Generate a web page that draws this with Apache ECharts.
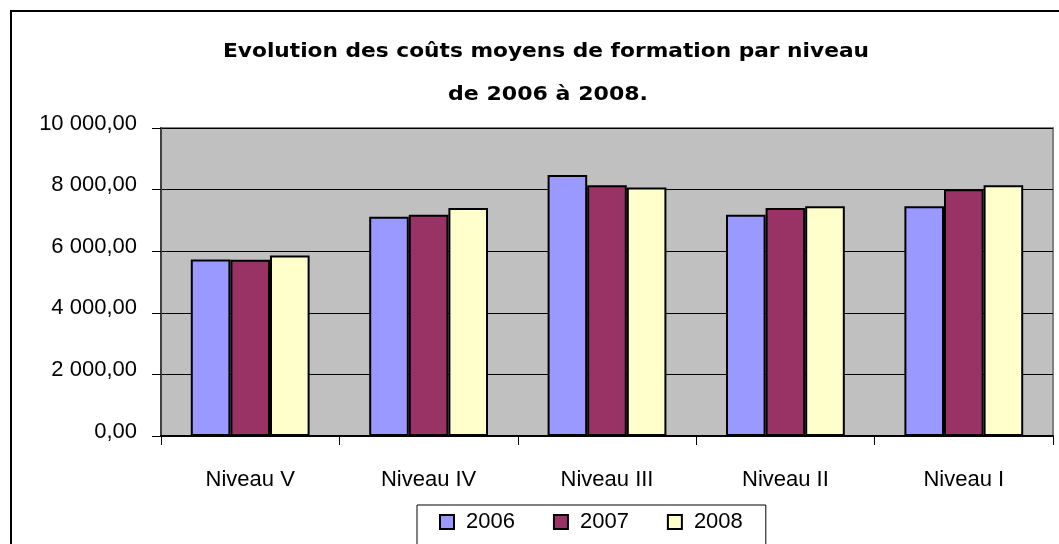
<!DOCTYPE html>
<html>
<head>
<meta charset="utf-8">
<script src="https://cdn.jsdelivr.net/npm/echarts@6/dist/echarts.min.js"></script>
<style>html,body{margin:0;padding:0;background:#fff}#c{width:1059px;height:544px}</style>
</head>
<body>
<div id="c"></div>
<script>
var categories = ['Niveau V', 'Niveau IV', 'Niveau III', 'Niveau II', 'Niveau I'];
var years = ['2006', '2007', '2008'];
var values2006 = [5730, 7120, 8470, 7180, 7460];
var values2007 = [5720, 7180, 8140, 7400, 8010];
var values2008 = [5860, 7400, 8070, 7460, 8140];
var titleLine1 = 'Evolution des coûts moyens de formation par niveau';
var titleLine2 = 'de 2006 à 2008.';
var colors = ['#9999FF', '#993366', '#FFFFCC'];

function fmt(v) {
  var s = v.toFixed(2).split('.');
  var ip = s[0].replace(/\B(?=(\d{3})+(?!\d))/g, ' ');
  return ip + ',' + s[1];
}

var titleFont = 'bold 19px "DejaVu Sans"';
function scaleFor(text, target) {
  var cv = document.createElement('canvas').getContext('2d');
  cv.font = titleFont;
  var w = cv.measureText(text).width;
  return w > 0 ? target / w : 1;
}

var chart = echarts.init(document.getElementById('c'), null, {renderer: 'canvas'});
var seriesData = [values2006, values2007, values2008];
var series = years.map(function (y, i) {
  return {
    name: y,
    type: 'bar',
    data: seriesData[i],
    barGap: '0%',
    barCategoryGap: '33.4%',
    itemStyle: {color: colors[i], borderColor: '#000', borderWidth: 2},
    emphasis: {disabled: true},
    animation: false
  };
});

chart.setOption({
  animation: false,
  textStyle: {fontFamily: 'Liberation Sans'},
  graphic: [
    {type: 'rect', shape: {x: 11, y: 11, width: 1100, height: 600}, style: {fill: 'none', stroke: '#000', lineWidth: 2}, silent: true, z: 100},
    {type: 'text', x: 546, y: 52, scaleX: scaleFor(titleLine1, 646), style: {text: titleLine1, font: titleFont, fill: '#000', textAlign: 'center', textVerticalAlign: 'middle', align: 'center', verticalAlign: 'middle'}},
    {type: 'text', x: 548, y: 95, scaleX: scaleFor(titleLine2, 200), style: {text: titleLine2, font: titleFont, fill: '#000', textAlign: 'center', textVerticalAlign: 'middle', align: 'center', verticalAlign: 'middle'}}
  ],
  grid: {
    left: 161, right: 6, top: 128, bottom: 108,
    show: true, backgroundColor: '#C0C0C0', borderColor: '#808080', borderWidth: 2,
    containLabel: false
  },
  legend: {
    data: years,
    left: 417, top: 505,
    orient: 'horizontal',
    padding: [6, 23, 20, 22],
    itemWidth: 14, itemHeight: 14,
    itemGap: 38,
    icon: 'rect',
    borderColor: '#000', borderWidth: 1,
    backgroundColor: '#fff',
    selectedMode: false,
    textStyle: {fontSize: 22, color: '#000', fontFamily: 'Liberation Sans', padding: [0, 0, 0, 7]}
  },
  xAxis: {
    type: 'category',
    data: categories,
    axisLine: {lineStyle: {color: '#000', width: 2}},
    axisTick: {show: true, length: 9, lineStyle: {color: '#000', width: 1}},
    axisLabel: {fontSize: 22, color: '#000', margin: 33, fontFamily: 'Liberation Sans'},
    splitLine: {show: false}
  },
  yAxis: {
    type: 'value',
    min: 0, max: 10000, interval: 2000,
    axisLine: {show: true, lineStyle: {color: '#404040', width: 2}},
    axisTick: {show: true, length: 9, lineStyle: {color: '#000', width: 1}},
    axisLabel: {fontSize: 22, color: '#000', margin: 24, formatter: fmt, fontFamily: 'Liberation Sans', verticalAlign: 'bottom', lineHeight: 9},
    splitLine: {show: true, lineStyle: {color: '#000', width: 1}}
  },
  series: series
});
</script>
</body>
</html>
